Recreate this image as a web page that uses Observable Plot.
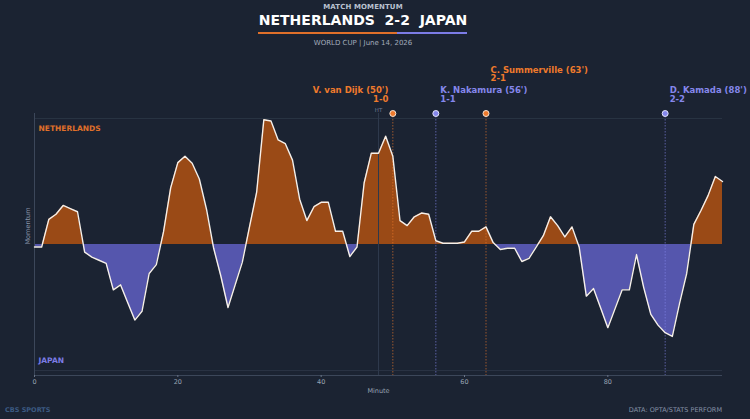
<!DOCTYPE html>
<html><head><meta charset="utf-8">
<script src="https://cdn.jsdelivr.net/npm/d3@7"></script>
<script src="https://cdn.jsdelivr.net/npm/@observablehq/plot@0.6"></script>
<style>
html,body{margin:0;padding:0;background:#1b2332;}
body{width:750px;height:419px;overflow:hidden;font-family:"DejaVu Sans",sans-serif;}
#head{position:relative;height:50px;}
#head .t{position:absolute;left:-24px;width:774px;text-align:center;line-height:1;transform:translateY(-50%);white-space:pre;}
#kicker{top:7px;font-size:7px;font-weight:bold;color:#b9c1d0;letter-spacing:0.1px;}
#title{top:20px;font-size:14px;font-weight:bold;color:#ffffff;}
#sub{top:43px;font-size:7px;color:#a3acbc;}
.bar{position:absolute;top:31.5px;height:2px;}
#foot{position:relative;height:17px;}
#foot div{position:absolute;top:8px;transform:translateY(-50%);line-height:1;font-size:6.5px;}
#src{right:28px;color:#8591a6;}
#brand{left:5px;color:#3b5a82;font-weight:bold;font-size:7px;}
svg{display:block;}
</style>
</head><body>
<div id="head">
  <div class="t" id="kicker">MATCH MOMENTUM</div>
  <div class="t" id="title">NETHERLANDS  2-2  JAPAN</div>
  <div class="bar" style="left:258px;width:139px;background:#e0702a;"></div>
  <div class="bar" style="left:397px;width:70px;background:#7c7ce6;"></div>
  <div class="t" id="sub">WORLD CUP | June 14, 2026</div>
</div>
<div id="chart"></div>
<div id="foot"><div id="brand">CBS SPORTS</div><div id="src">DATA: OPTA/STATS PERFORM</div></div>
<script>
// ---- data ----
const momentum = [
  -2, -2, 20, 24, 31, 28.5, 26, -6, -10, -12.5,
  -15, -36, -32, -46, -60, -53, -23, -16, 10, 45,
  65, 70, 64.5, 52, 28, -3, -25, -50, -32, -14,
  14, 41.5, 99, 98, 83, 80, 67, 36, 19, 30,
  33.5, 33.5, 10.5, 10.5, -9.5, -2, 49, 72.5, 72.5, 86,
  70, 19, 15, 22, 25, 24, 3, 1, 1, 1,
  2, 10.5, 10.5, 14, 1.5, -4, -3, -3, -13.5, -11,
  -2, 7, 22, 15, 6, 14, -2, -41, -35, -50.5,
  -66, -51, -36, -36, -8, -34, -55.5, -64, -70, -73,
  -47, -23, 16, 27, 39, 54, 50
];
const minutes = d3.range(momentum.length);
const eventMinutes = [50, 56, 63, 88];
const eventPlayers = ["V. van Dijk", "K. Nakamura", "C. Summerville", "D. Kamada"];
const eventTeams = ["NED", "JPN", "NED", "JPN"];
const eventScores = ["1-0", "1-1", "2-1", "2-2"];
const halfTime = 48;
const xTicks = [0, 20, 40, 60, 80];

// ---- styling / layout ----
const teamColor = {NED: "#ef7a2c", JPN: "#8587ec"};
const fillColor = {NED: "#9a4a16", JPN: "#5556ad"};
const labelLayout = {"V. van Dijk": {anchor: "end", tier: 0}, "C. Summerville": {anchor: "start", tier: 1}};
const yMax = 104;

const data = minutes.map((m, i) => ({minute: m, v: momentum[i]}));
const events = eventMinutes.map((m, i) => ({minute: m, player: eventPlayers[i], team: eventTeams[i], score: eventScores[i]}));

const eventMarks = [];
for (const e of events) {
  const lay = labelLayout[e.player] || {anchor: "start", tier: 0};
  const dx = lay.anchor === "end" ? -4.5 : 4.5;
  const off = lay.tier * 20.7;
  const common = {x: "minute", frameAnchor: "top", lineAnchor: "middle", textAnchor: lay.anchor, dx, fill: teamColor[e.team], fontWeight: "bold", fontSize: 8.5};
  eventMarks.push(Plot.text([e], {...common, text: d => `${d.player} (${d.minute}')`, dy: -23 - off}));
  eventMarks.push(Plot.text([e], {...common, text: d => d.score, dy: -14.5 - off}));
}

const chart = Plot.plot({
  width: 750, height: 352,
  marginTop: 63, marginBottom: 27, marginLeft: 34, marginRight: 28,
  style: {background: "transparent", fontFamily: "DejaVu Sans", color: "#9aa4b4", overflow: "visible"},
  x: {domain: [0, 96]},
  y: {domain: [-yMax, yMax], axis: null},
  marks: [
    Plot.ruleY([-100, 100], {stroke: "#2a3444", strokeWidth: 1}),
    Plot.areaY(data, {x: "minute", y: "v", fill: fillColor.NED}),
    Plot.areaY(data, {x: "minute", y: "v", fill: fillColor.JPN}),
    Plot.ruleX([halfTime], {stroke: "#2e394c", strokeWidth: 1}),
    Plot.text([halfTime], {x: d => d, frameAnchor: "top", lineAnchor: "middle", text: () => "HT", dy: -3.5, fontSize: 5.5, fill: "#6f7c94"}),
    Plot.ruleX(events.filter(e => e.team === "NED"), {x: "minute", stroke: teamColor.NED, strokeOpacity: 0.6, strokeDasharray: "1.5,1.5"}),
    Plot.ruleX(events.filter(e => e.team === "JPN"), {x: "minute", stroke: teamColor.JPN, strokeOpacity: 0.6, strokeDasharray: "1.5,1.5"}),
    Plot.ruleX([0], {stroke: "#3c475a", strokeWidth: 1}),
    Plot.ruleY([-yMax], {stroke: "#3c475a", strokeWidth: 1.2}),
    Plot.line(data, {x: "minute", y: "v", stroke: "#f6f0ea", strokeWidth: 1.4}),
    Plot.dot(events.filter(e => e.team === "NED"), {x: "minute", y: () => yMax, r: 3, fill: teamColor.NED, stroke: "#f6e2d2", strokeWidth: 1}),
    Plot.dot(events.filter(e => e.team === "JPN"), {x: "minute", y: () => yMax, r: 3, fill: teamColor.JPN, stroke: "#e4e4fa", strokeWidth: 1}),
    ...eventMarks,
    Plot.axisX({ticks: xTicks, tickSize: 2, tickPadding: 2, fontSize: 6.5, label: null, stroke: "#6a7588", fill: "#9aa4b4"}),
    Plot.text(["Minute"], {frameAnchor: "bottom", lineAnchor: "middle", text: d => d, dy: 15, fontSize: 6.5, fill: "#9aa4b4"}),
    Plot.text(["Momentum"], {frameAnchor: "left", lineAnchor: "middle", text: d => d, rotate: -90, dx: -7, fontSize: 6.5, fill: "#8a95a8"}),
    Plot.text(["NETHERLANDS"], {frameAnchor: "top-left", lineAnchor: "middle", text: d => d, dx: 4, dy: 15, fontSize: 7.5, fontWeight: "bold", fill: "#e0702a", textAnchor: "start"}),
    Plot.text(["JAPAN"], {frameAnchor: "bottom-left", lineAnchor: "middle", text: d => d, dx: 4, dy: -15, fontSize: 7.5, fontWeight: "bold", fill: "#7c7ce6", textAnchor: "start"})
  ]
});
document.getElementById("chart").appendChild(chart);

// clip the two areas to above / below the zero line
const y0 = chart.scale("y").apply(0);
const ns = "http://www.w3.org/2000/svg";
const defs = document.createElementNS(ns, "defs");
function clip(id, y, h) {
  const cp = document.createElementNS(ns, "clipPath");
  cp.setAttribute("id", id);
  const r = document.createElementNS(ns, "rect");
  r.setAttribute("x", 0); r.setAttribute("y", y);
  r.setAttribute("width", 750); r.setAttribute("height", h);
  cp.appendChild(r); defs.appendChild(cp);
}
clip("clipPos", 0, y0);
clip("clipNeg", y0, 352 - y0);
chart.insertBefore(defs, chart.firstChild);
const areas = chart.querySelectorAll('g[aria-label="area"]');
if (areas[0]) areas[0].setAttribute("clip-path", "url(#clipPos)");
if (areas[1]) areas[1].setAttribute("clip-path", "url(#clipNeg)");
</script>
</body></html>
